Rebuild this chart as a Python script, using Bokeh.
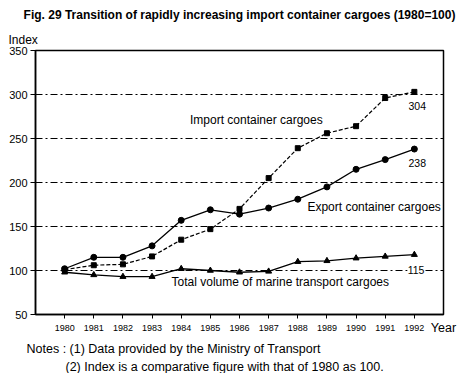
from bokeh.plotting import figure
from bokeh.models import Label, FixedTicker, Range1d, ColumnDataSource, Title
from bokeh.embed import file_html
from bokeh.resources import INLINE

years = [1980, 1981, 1982, 1983, 1984, 1985, 1986, 1987, 1988, 1989, 1990, 1991, 1992]
import_idx = [101, 106, 107, 116, 135, 147, 170, 205, 239, 256, 264, 296, 303]
export_idx = [102, 115, 115, 128, 157, 169, 164, 171, 181, 195, 215, 226, 238]
total_idx = [98, 95, 93, 93, 102, 100, 98, 99, 110, 111, 114, 116, 118]
y_ticks = [50, 100, 150, 200, 250, 300, 350]

FONT = "Liberation Sans"

p = figure(title=None, frame_width=408, frame_height=264, min_border_left=35, min_border_right=17,
           min_border_top=10, min_border_bottom=10, output_backend="svg",
           toolbar_location=None, x_range=Range1d(1979, 1993), y_range=Range1d(50, 350))
p.outline_line_color = "black"
p.outline_line_width = 1.5
p.background_fill_color = "white"
p.border_fill_color = "white"

p.xgrid.visible = False
p.ygrid.ticker = FixedTicker(ticks=[100, 150, 200, 250, 300])
p.ygrid.grid_line_color = "black"
p.ygrid.grid_line_dash = "7 3 2 3"
p.ygrid.grid_line_width = 1

p.xaxis.ticker = FixedTicker(ticks=years)
p.xaxis.major_label_text_font_size = "9px"
p.xaxis.major_label_text_font = FONT
p.xaxis.major_tick_out = 4
p.xaxis.major_tick_in = 0
p.xaxis.minor_tick_line_color = None
p.xaxis.axis_line_width = 1.5
p.xaxis.major_label_standoff = 6
p.xaxis.axis_label = "Year"
p.xaxis.axis_label_text_font = FONT
p.xaxis.axis_label_text_font_size = "12.5px"
p.xaxis.axis_label_text_font_style = "normal"
p.xaxis.axis_label_standoff = -13
if hasattr(p.xaxis[0], "axis_label_align"):
    p.xaxis[0].axis_label_align = "end"

p.yaxis.ticker = FixedTicker(ticks=y_ticks)
p.yaxis.major_label_text_font_size = "11px"
p.yaxis.major_label_text_font = FONT
p.yaxis.major_tick_out = 5
p.yaxis.major_tick_in = 0
p.yaxis.minor_tick_line_color = None
p.yaxis.axis_line_width = 1.5
p.yaxis.major_label_standoff = 3
for ax in (p.xaxis, p.yaxis):
    ax.axis_line_color = "black"
    ax.major_tick_line_color = "black"
    ax.major_label_text_color = "black"
    ax.axis_label_text_color = "black"

src = ColumnDataSource(dict(x=years, imp=import_idx, exp=export_idx, tot=total_idx))

p.line("x", "tot", source=src, line_color="black", line_width=1.3)
p.scatter("x", "tot", source=src, marker="triangle", size=6, color="black")
p.line("x", "imp", source=src, line_color="black", line_width=1.2, line_dash="4 2")
p.scatter("x", "imp", source=src, marker="square", size=5, color="black")
p.line("x", "exp", source=src, line_color="black", line_width=1.3)
p.scatter("x", "exp", source=src, marker="circle", size=6, color="black")

def dlabel(x, y, t, bg=None, size="12px"):
    lab = Label(x=x, y=y, text=t, text_font=FONT, text_font_size=size,
                text_baseline="middle", text_color="black")
    if bg:
        lab.background_fill_color = bg
    p.add_layout(lab)

dlabel(1984.3, 270.5, "Import container cargoes")
dlabel(1988.33, 172, "Export container cargoes")
dlabel(1983.67, 86.4, "Total volume of marine transport cargoes")
dlabel(1991.8, 286.7, "304", size="10.5px")
dlabel(1991.8, 222.4, "238", size="10.5px")
dlabel(1991.77, 101, "115", bg="white", size="10.5px")

def title(t, side, size="12px", style="normal", align="left", offset=0, standoff=0):
    p.add_layout(Title(text=t, text_font=FONT, text_font_size=size, text_font_style=style,
                       align=align, offset=offset, standoff=standoff, text_color="black"), side)

# above: first added is nearest the frame
title("Index", "above", size="12px", align="left", offset=-27, standoff=7)
title("Fig. 29 Transition of rapidly increasing import container cargoes (1980=100)", "above",
      size="12px", style="bold", align="center", offset=0, standoff=11)
# below the x axis
title("Notes :  (1)  Data provided by the Ministry of Transport", "below",
      size="12.5px", align="left", offset=-9, standoff=4)
title("(2)  Index is a comparative figure with that of 1980 as 100.", "below",
      size="12.5px", align="left", offset=30, standoff=0)

open("out.html", "w").write(file_html(p, INLINE))
